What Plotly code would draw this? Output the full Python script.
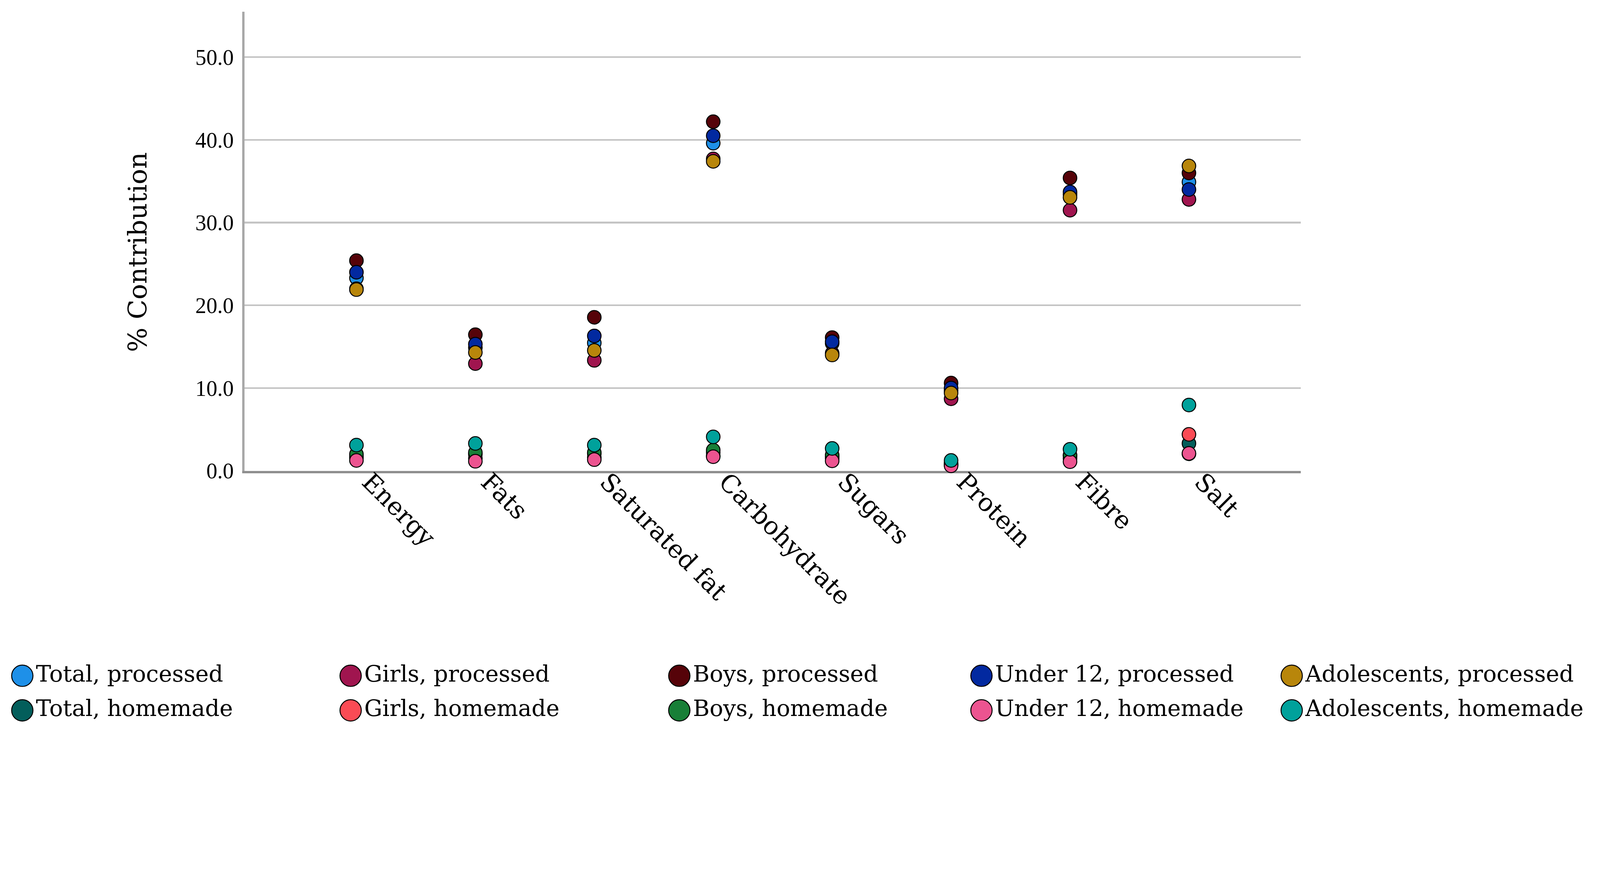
import plotly.graph_objects as go

# ---------------- data ----------------
categories = ["Energy", "Fats", "Saturated fat", "Carbohydrate", "Sugars",
              "Protein", "Fibre", "Salt"]

series_names = ["Total, processed", "Girls, processed", "Boys, processed",
                "Under 12, processed", "Adolescents, processed",
                "Total, homemade", "Girls, homemade", "Boys, homemade",
                "Under 12, homemade", "Adolescents, homemade"]

total_processed       = [23.3, 14.9, 15.45, 39.6, 15.4, 9.7, 33.4, 34.9]
girls_processed       = [22.0, 12.95, 13.35, 37.7, 14.2, 8.7, 31.5, 32.8]
boys_processed        = [25.4, 16.45, 18.55, 42.2, 16.1, 10.6, 35.4, 36.0]
under12_processed     = [24.0, 15.3, 16.3, 40.5, 15.6, 10.0, 33.7, 34.0]
adolescents_processed = [21.9, 14.3, 14.55, 37.4, 14.0, 9.4, 33.05, 36.85]
total_homemade        = [1.7, 2.0, 2.1, 2.2, 1.7, 0.8, 1.8, 3.3]
girls_homemade        = [1.6, 1.5, 1.6, 1.8, 1.5, 0.7, 1.5, 4.4]
boys_homemade         = [2.0, 2.2, 2.2, 2.5, 1.9, 0.9, 1.9, 2.05]
under12_homemade      = [1.25, 1.15, 1.35, 1.7, 1.2, 0.6, 1.1, 2.1]
adolescents_homemade  = [3.1, 3.3, 3.1, 4.1, 2.7, 1.25, 2.6, 7.95]

series_values = [total_processed, girls_processed, boys_processed,
                 under12_processed, adolescents_processed,
                 total_homemade, girls_homemade, boys_homemade,
                 under12_homemade, adolescents_homemade]

y_tick_values = [0, 10, 20, 30, 40, 50]
y_tick_labels = ["0.0", "10.0", "20.0", "30.0", "40.0", "50.0"]

# ---------------- styles ----------------
colors = ["#1E90E8", "#A0154F", "#560309", "#0229A0", "#B8860B",
          "#035E5B", "#FA4B55", "#187F37", "#EC5490", "#00A19B"]

W, H = 4951, 2267
FONT = "DejaVu Serif"
TICK_FONT = "Liberation Serif"
plot_left, plot_right = 757, 4025
plot_top, plot_bottom = 36, 1456

# custom legend layout (pixel positions)
legend_col_x = [69, 1085, 2102, 3037, 3997]
legend_row_y = [2090, 2197]

fig = go.Figure()

for name, vals, col in zip(series_names, series_values, colors):
    fig.add_trace(go.Scatter(
        x=categories, y=vals, mode="markers", name=name,
        marker=dict(size=42, color=col, line=dict(color="black", width=3)),
        cliponaxis=False, showlegend=False,
        xaxis="x", yaxis="y"))

# legend built as marker+text entries on a hidden pixel-mapped axis
for i, (name, col) in enumerate(zip(series_names, colors)):
    fig.add_trace(go.Scatter(
        x=[legend_col_x[i % 5]], y=[legend_row_y[i // 5]],
        mode="markers+text", text=[name], textposition="middle right",
        textfont=dict(family=FONT, size=70, color="black"),
        marker=dict(size=66, color=col, line=dict(color="black", width=3)),
        cliponaxis=False, showlegend=False, xaxis="x2", yaxis="y2"))

fig.update_layout(
    width=W, height=H,
    margin=dict(l=0, r=0, t=0, b=0),
    paper_bgcolor="white", plot_bgcolor="white",
    showlegend=False,
    font=dict(family=FONT, color="black"),
    xaxis=dict(
        domain=[plot_left / W, plot_right / W],
        type="category", range=[-0.94, 7.94],
        showgrid=False, zeroline=False,
        showline=True, linecolor="#8F8F8F", linewidth=8,
        layer="below traces",
        tickangle=45, tickfont=dict(family=FONT, size=77, color="black"),
        ticks="", automargin=False,
        ticklabelstandoff=-50, ticklabelshift=40,
    ),
    yaxis=dict(
        domain=[(H - plot_bottom) / H, (H - plot_top) / H],
        range=[0, 55.5],
        tickvals=y_tick_values, ticktext=y_tick_labels,
        tickfont=dict(family=TICK_FONT, size=68, color="black"),
        showgrid=True, gridcolor="#C4C4C4", gridwidth=5,
        zeroline=False,
        showline=True, linecolor="#A8A8A8", linewidth=8,
        layer="below traces",
        ticks="", ticklabelstandoff=12, automargin=False,
    ),
    xaxis2=dict(domain=[0, 1], range=[0, W], visible=False, fixedrange=True),
    yaxis2=dict(domain=[0, 0.2], range=[H, H - 0.2 * H], visible=False,
                anchor="x2", fixedrange=True),
    annotations=[dict(
        text="% Contribution", xref="paper", yref="paper",
        x=426 / W, y=(H - 780) / H, textangle=-90, showarrow=False,
        font=dict(family=FONT, size=80, color="black"),
        xanchor="center", yanchor="middle")],
)

# keep the fixed-size figure inside the window whatever its CSS viewport is
post_script = """
(function(){
  var gd = document.getElementById('{plot_id}');
  document.documentElement.style.margin = '0';
  document.body.style.margin = '0';
  document.body.style.overflow = 'hidden';
  var s = Math.min(window.innerWidth / %d, window.innerHeight / %d);
  if (Math.abs(s - 1) > 0.001) {
    gd.style.transformOrigin = '0 0';
    gd.style.transform = 'scale(' + s + ')';
  }
})();
""" % (W, H)

fig.write_html("out.html", post_script=post_script,
               config={"displayModeBar": False})
